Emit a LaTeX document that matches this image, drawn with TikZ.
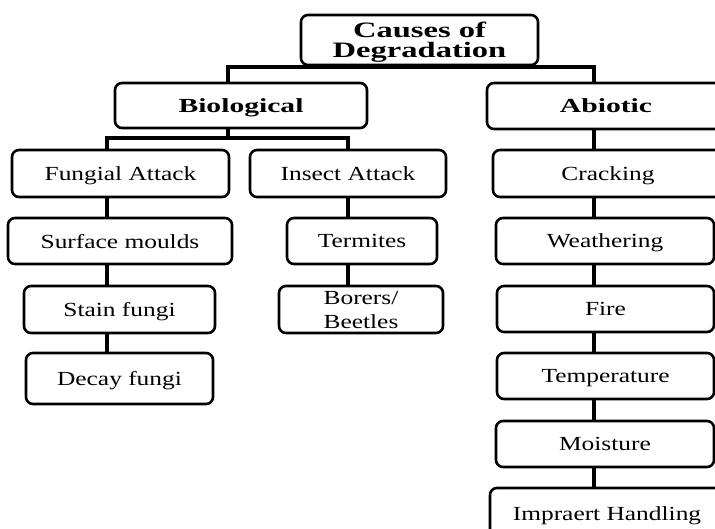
\documentclass[tikz,border=0pt]{standalone}
\usepackage{fontspec}
\setmainfont[FakeStretch=1.27]{Liberation Serif}
\newfontfamily\headfont[FakeStretch=1.48]{Liberation Serif}

\begin{document}
\begin{tikzpicture}[
    x=1pt, y=-1pt,
    box/.style={draw, line width=2.6pt, rounded corners=7pt, align=center, inner sep=0pt,
        text depth=0pt, font=\fontsize{20}{24}\selectfont},
    head/.style={box, font=\headfont\bfseries\fontsize{20}{24}\selectfont},
    link/.style={line width=4pt}
]
\useasboundingbox (0,0) rectangle (715,528);
\clip (0,0) rectangle (715,528);

% Top
\node[head, minimum width=237pt, minimum height=50pt,
      font=\headfont\bfseries\fontsize{22}{20.5}\selectfont] (root) at (419.5,40) {Causes of\\Degradation};
\node[head, minimum width=252pt, minimum height=45pt] (bio)  at (241,105.5) {Biological};
\node[head, minimum width=238pt, minimum height=46pt] (abio) at (606,106) {Abiotic};

% Biological side
\node[box, minimum width=217pt, minimum height=47pt] (fung)  at (120.5,173.5) {Fungial Attack};
\node[box, minimum width=196pt, minimum height=47pt] (ins)   at (348,173.5)   {Insect Attack};
\node[box, minimum width=224pt, minimum height=46pt] (surf)  at (120,241)     {Surface moulds};
\node[box, minimum width=191pt, minimum height=47pt] (stain) at (119.5,309.5) {Stain fungi};
\node[box, minimum width=187pt, minimum height=51pt] (decay) at (119.5,378.5) {Decay fungi};
\node[box, minimum width=150pt, minimum height=46pt] (term)  at (362,241)     {Termites};
\node[box, minimum width=164pt, minimum height=47pt] (bore)  at (361,309.5)   {Borers/\\Beetles};

% Abiotic side
\node[box, minimum width=230pt, minimum height=47pt] (crack) at (608,173.5) {Cracking};
\node[box, minimum width=218pt, minimum height=46pt] (weat)  at (605,241)   {Weathering};
\node[box, minimum width=217pt, minimum height=46pt] (fire)  at (605.5,309) {Fire};
\node[box, minimum width=217pt, minimum height=46pt] (temp)  at (605.5,376) {Temperature};
\node[box, minimum width=218pt, minimum height=46pt] (moist) at (605,444)   {Moisture};
\node[box, minimum width=234pt, minimum height=52pt] (hand)  at (607,514)   {Impraert Handling};

% Columns of the connectors
\coordinate (tcol) at (407,0);
\coordinate (bcol) at (228,0);
\coordinate (lcol) at (107,0);
\coordinate (mcol) at (348,0);
\coordinate (rcol) at (594,0);

\draw[link] (tcol |- root.south) -- ++(0,3);
\draw[link] (bcol |- bio.north) -- ++(0,-15) -| (rcol |- abio.north);
\draw[link] (bcol |- bio.south) -- ++(0,11);
\draw[link] (lcol |- fung.north) -- ++(0,-11) -| (mcol |- ins.north);

\draw[link] (lcol |- fung.south)  -- (lcol |- surf.north);
\draw[link] (lcol |- surf.south)  -- (lcol |- stain.north);
\draw[link] (lcol |- stain.south) -- (lcol |- decay.north);

\draw[link] (mcol |- ins.south)  -- (mcol |- term.north);
\draw[link] (mcol |- term.south) -- (mcol |- bore.north);

\draw[link] (rcol |- abio.south)  -- (rcol |- crack.north);
\draw[link] (rcol |- crack.south) -- (rcol |- weat.north);
\draw[link] (rcol |- weat.south)  -- (rcol |- fire.north);
\draw[link] (rcol |- fire.south)  -- (rcol |- temp.north);
\draw[link] (rcol |- temp.south)  -- (rcol |- moist.north);
\draw[link] (rcol |- moist.south) -- (rcol |- hand.north);
\end{tikzpicture}
\end{document}
